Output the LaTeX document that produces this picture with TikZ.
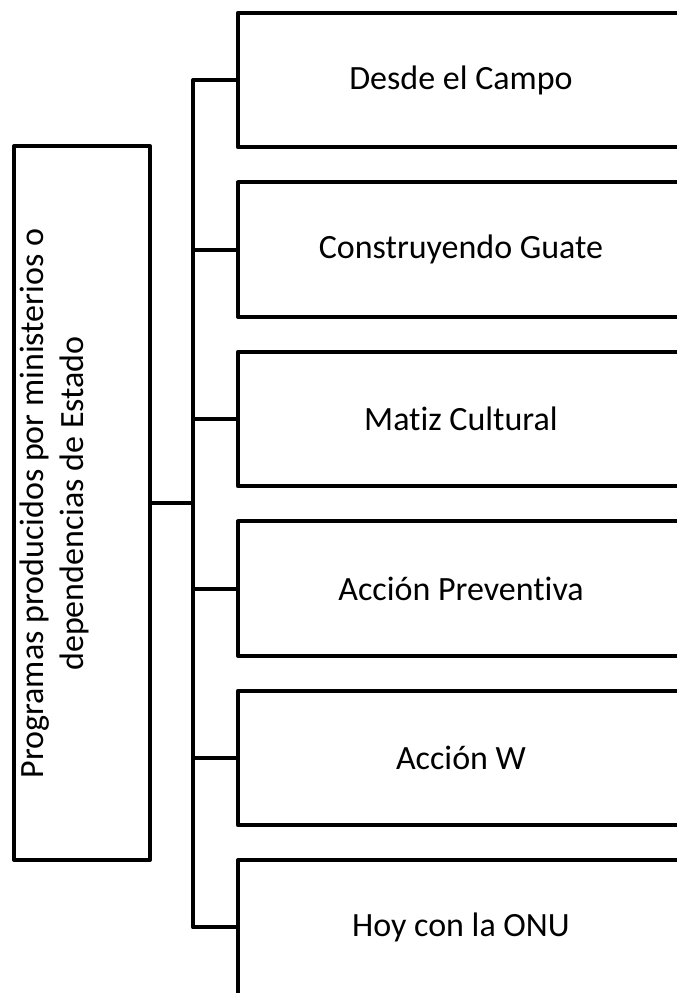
\documentclass[tikz,border=0pt]{standalone}
\usepackage{fontspec}
\setmainfont[Ligatures=NoCommon]{Carlito}
\begin{document}
\begin{tikzpicture}[x=1pt,y=1pt,
  ln/.style={line width=4pt,line join=round,line cap=round},
  txt/.style={font=\fontsize{34}{40}\selectfont},
  prog/.style={ln,draw,minimum width=446pt,minimum height=134.4pt,inner sep=0pt,txt},
  mainbox/.style={ln,draw,minimum width=136pt,minimum height=714pt,inner sep=0pt},
  vtxt/.style={txt,rotate=90,anchor=base,inner sep=0pt}]
\useasboundingbox (0,0) rectangle (677,993);
\clip (0,0) rectangle (677,993);
\node[mainbox] (main) at (82,490) {};
\node[vtxt] (mt1) at (43,489.5) {Programas producidos por ministerios o};
\node[vtxt] (mt2) at (83,489.5) {dependencias de Estado};
\node[prog] (b1) at (461,913) {Desde el Campo};
\node[prog] (b2) at (461,743.4) {Construyendo Guate};
\node[prog] (b3) at (461,574) {Matiz Cultural};
\node[prog] (b4) at (461,404.4) {Acción Preventiva};
\node[prog] (b5) at (461,235) {Acción W};
\node[prog] (b6) at (461,65.6) {Hoy con la ONU};
\coordinate (t) at (193,0);
\draw[ln] (b1.west) -- (b1.west -| t) -- (b6.west -| t) -- (b6.west);
\draw[ln] (b2.west) -- (b2.west -| t);
\draw[ln] (b3.west) -- (b3.west -| t);
\draw[ln] (b4.west) -- (b4.west -| t);
\draw[ln] (b5.west) -- (b5.west -| t);
\draw[ln] (main.east) -- (main.east -| t);
\end{tikzpicture}
\end{document}
